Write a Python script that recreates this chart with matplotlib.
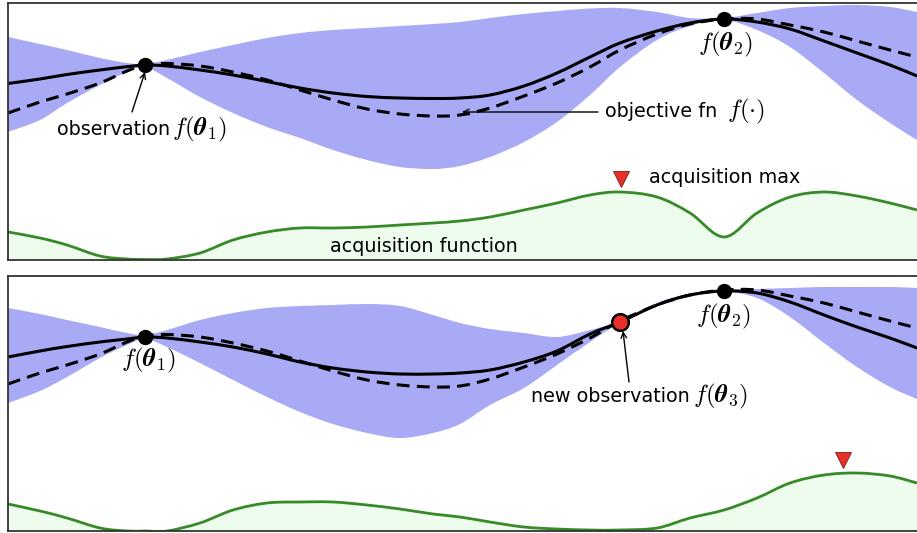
import matplotlib
matplotlib.use("Agg")
import matplotlib.pyplot as plt
from matplotlib.path import Path
from matplotlib.patches import PathPatch

plt.rcParams['mathtext.fontset'] = 'cm'
plt.rcParams['font.family'] = ['DejaVu Sans']

# common x grid (horizontal parameter axis)
x = [8, 40, 67, 100, 127, 145, 167, 200, 233, 267, 300, 333, 367, 400, 433,
     460, 490, 524, 557, 590, 620, 657, 690, 724, 757, 790, 824, 857, 890, 917]

# true objective (dashed), same in both panels
objective = [147, 158, 166, 177, 189, 195, 196.5, 194, 188, 180, 170, 160, 151, 146, 144,
             145, 152, 164, 177, 193, 210, 226, 236, 241, 241, 235, 228, 219, 210, 203]

# panel 1: GP posterior with two observations
mean1 = [176.5, 181, 185.5, 190, 193.3, 195, 194, 190, 185, 178.5, 172, 167, 163.5, 162, 161.5,
         162, 165, 174, 187, 203, 217, 229, 237, 241, 238, 231, 219, 207, 195, 184]
upper1 = [223, 216, 210, 202, 197, 196, 200, 208, 215, 222, 227, 230, 232, 234, 236,
          238, 242, 246, 249, 251.5, 252, 248, 242, 242, 247, 252, 254, 255, 253, 248]
lower1 = [128, 140, 157, 175, 188, 193, 182, 163, 147, 133, 122, 110, 100, 93, 91,
          94, 103, 118, 138, 165, 193, 220, 234, 240, 230, 213, 187, 160, 137, 120]
acq1 = [28, 22, 15, 4, 1, 0.5, 1, 7, 20, 28, 32, 32, 33, 35, 37,
        39, 43, 50, 57, 65, 68, 63, 47, 23, 47, 63, 68, 64, 57, 50]

# panel 2: GP posterior after the new observation
mean2 = [174, 180, 184.5, 189, 192, 194, 193, 189, 184, 177, 169, 163, 159, 157, 157,
         158, 161, 169, 180, 197, 209, 226, 236, 240, 238, 229, 216, 204, 193, 183]
upper2 = [223, 217, 211, 204, 198, 196, 201, 211, 218, 223, 225, 226, 227, 225, 216,
          208, 202, 198, 194, 201, 210, 228, 237.5, 241, 242, 243, 244, 244, 244, 243]
lower2 = [128, 140, 154, 173, 186, 192, 184, 168, 151, 134, 119, 107, 98, 93, 98,
          107, 126, 143, 166, 189, 208, 225, 234.5, 239, 233, 214, 188, 164, 144, 132]
acq2 = [27, 20, 13, 3, 0, 0, 0, 8, 21, 28, 29, 29, 26, 22, 17,
        14, 9, 4, 2, 1, 1, 3, 13, 21, 33, 48, 56, 58, 55, 48]

obs_x = [145, 724]
obs1_y = [195, 241]
obs2_y = [194, 240]
new_x = 620
new_y = 209
acqmax1 = (621, 81)
acqmax2 = (843, 71)

BAND = '#a8aaf5'
GREEN = '#368a27'
GFILL = '#edfced'
FS = 13.8
MFS = 18
LW = 2.2

W, H = 917, 533
fig = plt.figure(figsize=(W / 100, H / 100), dpi=100)
ax1 = fig.add_axes([8 / W, (H - 260) / H, 912 / W, 257 / H])
ax2 = fig.add_axes([8 / W, 2 / H, 912 / W, 255 / H])


def bezier_segments(xs, ys):
    """Catmull-Rom curve through the given points, as cubic Bezier vertices."""
    n = len(xs)
    verts = []
    for i in range(n - 1):
        x0, y0 = (xs[i - 1], ys[i - 1]) if i > 0 else (xs[i], ys[i])
        x1, y1 = xs[i], ys[i]
        x2, y2 = xs[i + 1], ys[i + 1]
        x3, y3 = (xs[i + 2], ys[i + 2]) if i + 2 < n else (x2, y2)
        c1 = (x1 + (x2 - x0) / 6.0, y1 + (y2 - y0) / 6.0)
        c2 = (x2 - (x3 - x1) / 6.0, y2 - (y3 - y1) / 6.0)
        verts += [c1, c2, (x2, y2)]
    return verts


def curve_path(xs, ys):
    verts = [(xs[0], ys[0])] + bezier_segments(xs, ys)
    codes = [Path.MOVETO] + [Path.CURVE4] * (len(verts) - 1)
    return Path(verts, codes)


def band_path(xs, lo, hi):
    v_hi = [(xs[0], hi[0])] + bezier_segments(xs, hi)
    rx, rlo = xs[::-1], lo[::-1]
    v_lo = [(rx[0], rlo[0])] + bezier_segments(rx, rlo)
    verts = v_hi + v_lo + [v_hi[0]]
    codes = ([Path.MOVETO] + [Path.CURVE4] * (len(v_hi) - 1) +
             [Path.LINETO] + [Path.CURVE4] * (len(v_lo) - 1) + [Path.CLOSEPOLY])
    return Path(verts, codes)


def draw(ax, mean, upper, lower, acq, ytop):
    ax.add_patch(PathPatch(band_path(x, lower, upper), facecolor=BAND, lw=0, zorder=1))
    ax.add_patch(PathPatch(band_path(x, [0] * len(x), acq), facecolor=GFILL, lw=0, zorder=1))
    ax.add_patch(PathPatch(curve_path(x, acq), fill=False, edgecolor=GREEN, lw=2.0, zorder=2))
    ax.add_patch(PathPatch(curve_path(x, objective), fill=False, edgecolor='black', lw=LW,
                           ls=(0, (4.2, 2.4)), zorder=3))
    ax.add_patch(PathPatch(curve_path(x, mean), fill=False, edgecolor='black', lw=LW, zorder=4))
    ax.set_xlim(8, 920)
    ax.set_ylim(0, ytop)
    ax.set_xticks([])
    ax.set_yticks([])
    for s in ax.spines.values():
        s.set_color('#333333')
        s.set_linewidth(1.3)
        s.set_zorder(10)


draw(ax1, mean1, upper1, lower1, acq1, 257)
draw(ax2, mean2, upper2, lower2, acq2, 255)

# observations
ax1.plot(obs_x, obs1_y, 'o', color='black', ms=10, zorder=6)
ax2.plot(obs_x, obs2_y, 'o', color='black', ms=10, zorder=6)
ax2.plot([new_x], [new_y], 'o', color='#e8302a', mec='black', mew=1.8, ms=12, zorder=7)

# acquisition maxima
ax1.plot([acqmax1[0]], [acqmax1[1]], 'v', color='#e8302a', mec='#7a1a10', mew=0.6, ms=11, zorder=6)
ax2.plot([acqmax2[0]], [acqmax2[1]], 'v', color='#e8302a', mec='#7a1a10', mew=0.6, ms=11, zorder=6)

arrow = dict(arrowstyle='->', color='black', lw=1.0, shrinkA=0, shrinkB=0)

# panel 1 texts
ax1.annotate('', xy=(145, 188), xytext=(132, 148), arrowprops=arrow, zorder=8)
ax1.text(170, 125, 'observation', ha='right', va='baseline', fontsize=FS, zorder=8)
ax1.text(172, 125, r'$f(\boldsymbol{\theta}_1)$', ha='left', va='baseline', fontsize=MFS, zorder=8)

ax1.annotate('', xy=(462, 148), xytext=(598, 148), arrowprops=arrow, zorder=8)
ax1.text(605, 143, 'objective fn', ha='left', va='baseline', fontsize=FS, zorder=8)
ax1.text(727, 143, r'$f(\cdot)$', ha='left', va='baseline', fontsize=MFS, zorder=8)

ax1.text(726, 216, r'$f(\boldsymbol{\theta}_2)$', ha='center', va='center', fontsize=MFS, zorder=8)
ax1.text(649, 77, 'acquisition max', ha='left', va='baseline', fontsize=FS, zorder=8)
ax1.text(330, 8, 'acquisition function', ha='left', va='baseline', fontsize=FS, zorder=8)

# panel 2 texts
ax2.text(149, 171, r'$f(\boldsymbol{\theta}_1)$', ha='center', va='center', fontsize=MFS, zorder=8)
ax2.text(724, 215, r'$f(\boldsymbol{\theta}_2)$', ha='center', va='center', fontsize=MFS, zorder=8)
ax2.annotate('', xy=(new_x + 3, 200), xytext=(629, 149), arrowprops=arrow, zorder=8)
ax2.text(690, 129, 'new observation', ha='right', va='baseline', fontsize=FS, zorder=8)
ax2.text(693, 129, r'$f(\boldsymbol{\theta}_3)$', ha='left', va='baseline', fontsize=MFS, zorder=8)

fig.savefig('out.png', dpi=100)
